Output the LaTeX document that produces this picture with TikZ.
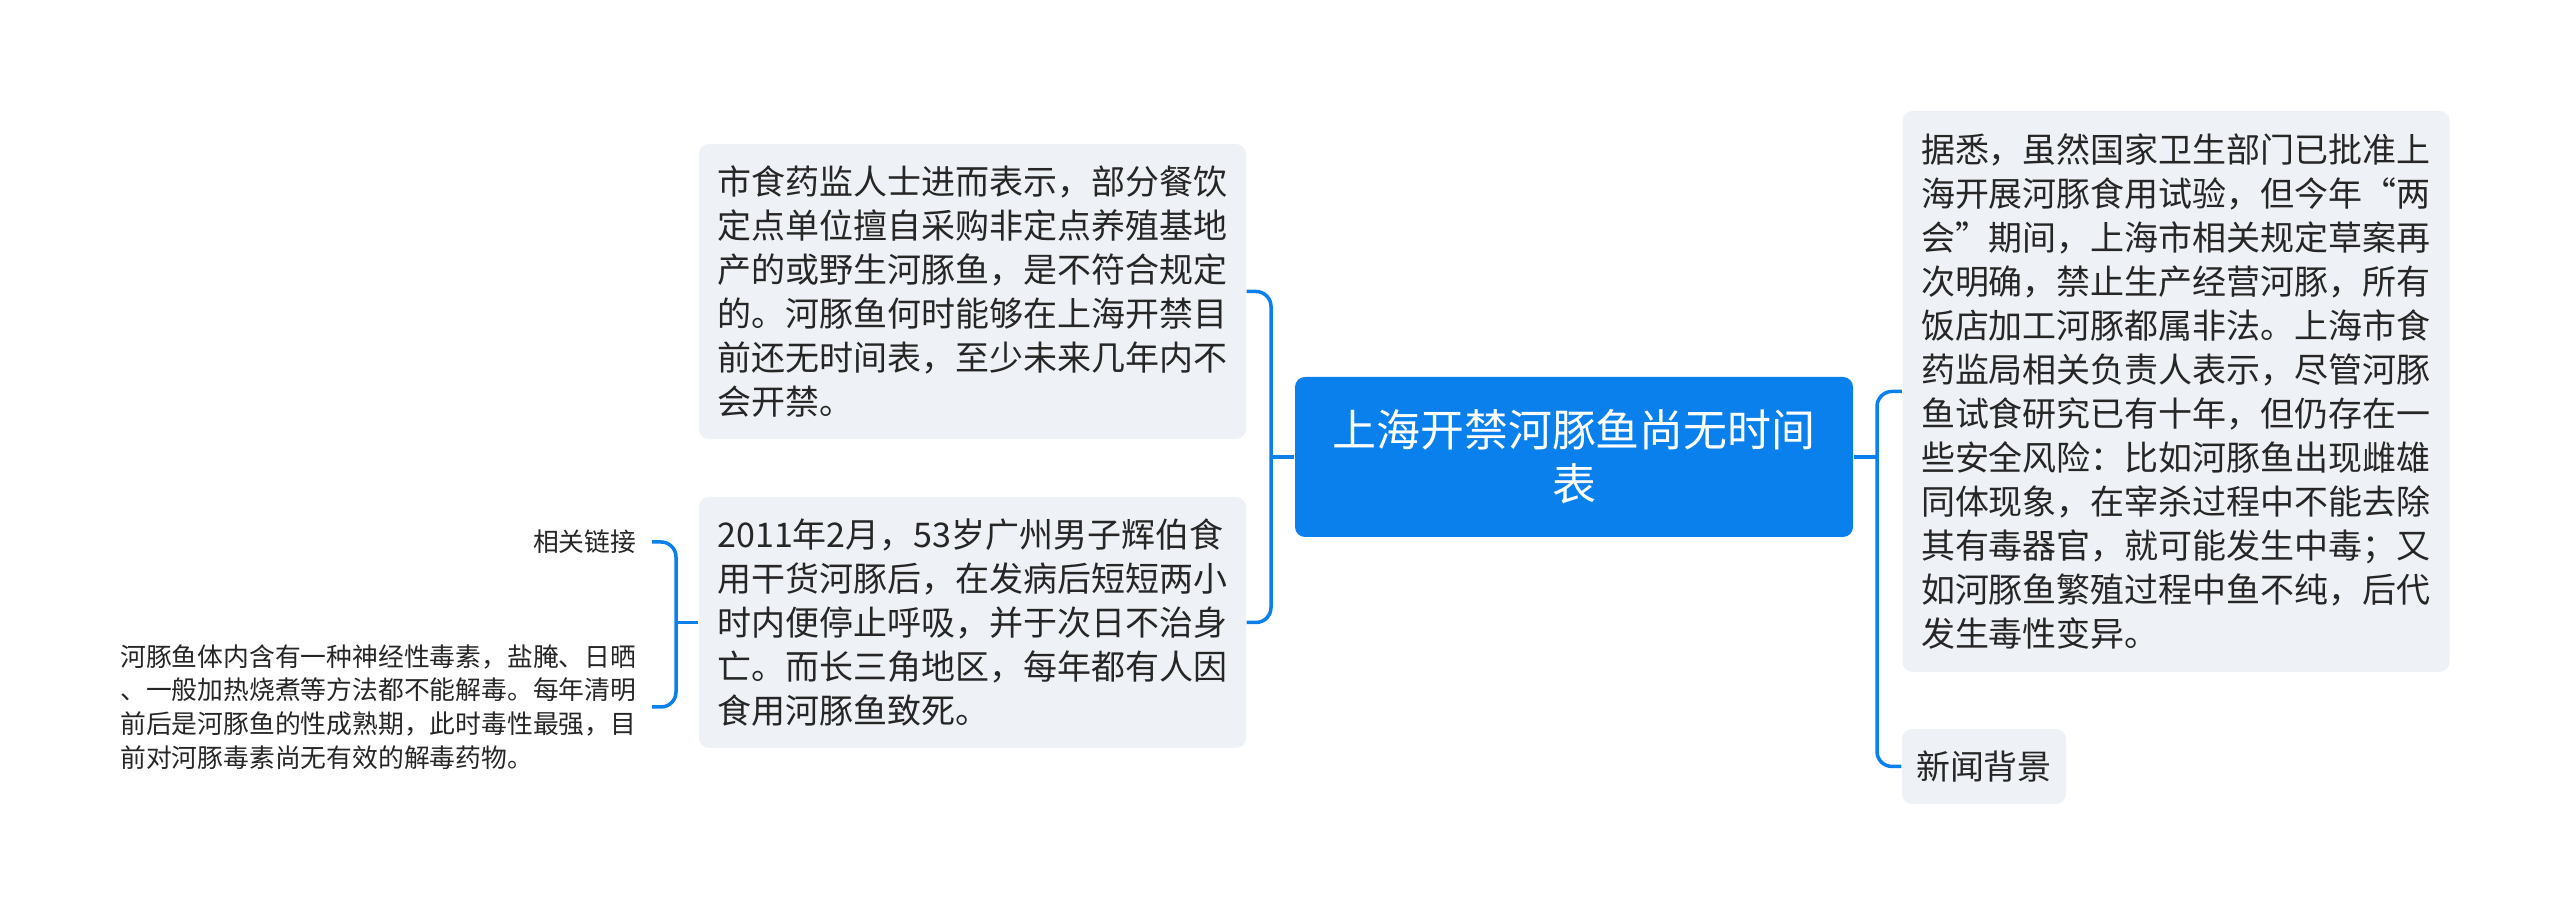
\documentclass[tikz,border=0pt]{standalone}
\usepackage{fontspec}
\setmainfont{Noto Sans CJK SC}
\definecolor{mapblue}{RGB}{10,128,236}
\definecolor{cardgray}{RGB}{238,241,245}
\definecolor{inkgray}{RGB}{38,38,38}
\begin{document}
\begin{tikzpicture}[
        card/.style={fill=cardgray, rounded corners=0.1cm, text=inkgray, align=left, inner ysep=0pt, inner xsep=0.185cm, text width=5.1cm, font=\fontsize{9.67}{12.52}\selectfont},
        side/.style={anchor=east, text=inkgray, align=left, inner ysep=0pt, inner xsep=0.15cm, font=\fontsize{7.34}{9.62}\selectfont},
        branch/.style={draw=mapblue, line width=0.035cm, rounded corners=0.15cm}]
        \useasboundingbox (0,0) rectangle (25.6,9.16);
        \node[fill=mapblue, rounded corners=0.1cm, text=white, align=center, inner ysep=0pt, inner xsep=0.19cm, text width=5.2cm, minimum height=1.6cm, font=\fontsize{12.5}{15.36}\selectfont] (root) at (15.74,4.59) {上海开禁河豚鱼尚无时间\\表};
        \node[card, minimum height=2.95cm] (ban) at (9.725,6.245) {市食药监人士进而表示，部分餐饮\\定点单位擅自采购非定点养殖基地\\产的或野生河豚鱼，是不符合规定\\的。河豚鱼何时能够在上海开禁目\\前还无时间表，至少未来几年内不\\会开禁。};
        \node[card, minimum height=2.51cm] (case) at (9.725,2.935) {2011年2月，53岁广州男子辉伯食\\用干货河豚后，在发病后短短两小\\时内便停止呼吸，并于次日不治身\\亡。而长三角地区，每年都有人因\\食用河豚鱼致死。};
        \node[card, minimum height=5.61cm] (detail) at (21.76,5.245) {据悉，虽然国家卫生部门已批准上\\海开展河豚食用试验，但今年“两\\会”期间，上海市相关规定草案再\\次明确，禁止生产经营河豚，所有\\饭店加工河豚都属非法。上海市食\\药监局相关负责人表示，尽管河豚\\鱼试食研究已有十年，但仍存在一\\些安全风险：比如河豚鱼出现雌雄\\同体现象，在宰杀过程中不能去除\\其有毒器官，就可能发生中毒；又\\如河豚鱼繁殖过程中鱼不纯，后代\\发生毒性变异。};
        \node[card, text width=1.36cm, inner xsep=0.14cm, minimum height=0.75cm] (bg) at (19.84,1.495) {新闻背景};
        \node[side] (rel) at (6.52,3.74) {相关链接};
        \node[side, text width=5.16cm] (toxin) at (6.52,2.09) {河豚鱼体内含有一种神经性毒素，盐腌、日晒\\、一般加热烧煮等方法都不能解毒。每年清明\\前后是河豚鱼的性成熟期，此时毒性最强，目\\前对河豚毒素尚无有效的解毒药物。};
        \coordinate (lj) at (12.71,4.59);
        \coordinate (rj) at (18.77,4.59);
        \coordinate (sj) at (6.76,2.935);
        \draw[branch] (root.west) -- (lj);
        \draw[branch] (ban.east) -| (lj) |- (case.east);
        \draw[branch] (root.east) -- (rj);
        \draw[branch] (detail.west) -| (rj) |- (bg.west);
        \draw[branch] (case.west) -- (sj);
        \draw[branch] (rel.east) -| (sj) |- (toxin.east);
\end{tikzpicture}
\end{document}
